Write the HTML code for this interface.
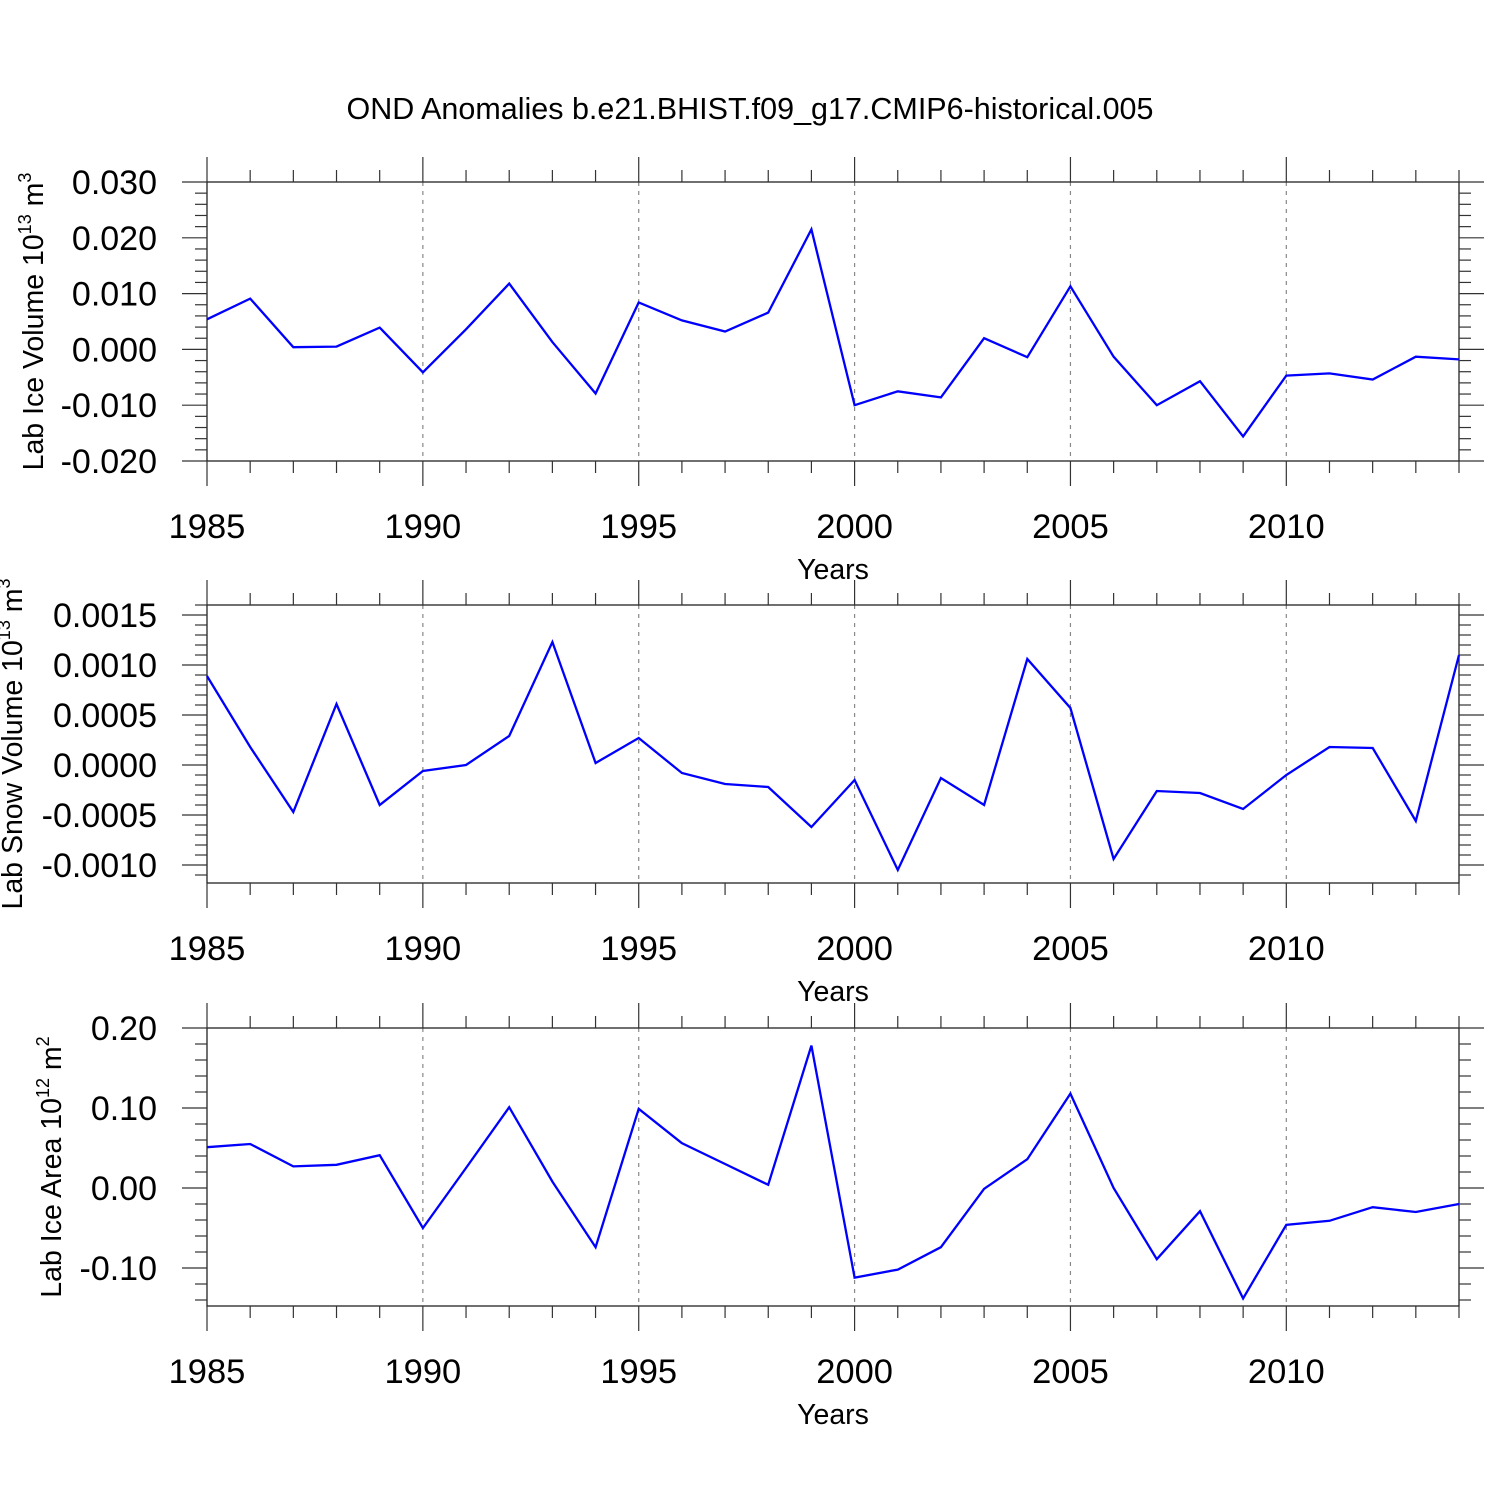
<!DOCTYPE html>
<html><head><meta charset="utf-8"><style>
html,body{margin:0;padding:0;background:#fff;}
svg{display:block;font-family:"Liberation Sans",sans-serif;}
</style></head><body>
<svg id="chart" width="1500" height="1500" viewBox="0 0 1500 1500" xmlns="http://www.w3.org/2000/svg">
<rect width="1500" height="1500" fill="#fff"/>
<text x="750" y="119" font-size="30.5" text-anchor="middle">OND Anomalies b.e21.BHIST.f09_g17.CMIP6-historical.005</text>
</svg>
<script>
const years = [1985,1986,1987,1988,1989,1990,1991,1992,1993,1994,1995,1996,1997,1998,1999,2000,2001,2002,2003,2004,2005,2006,2007,2008,2009,2010,2011,2012,2013,2014];
const iceVolume = [0.0054,0.0091,0.0004,0.0005,0.0039,-0.0041,0.0036,0.0118,0.0013,-0.0079,0.0084,0.0052,0.0032,0.0066,0.0215,-0.0100,-0.0075,-0.0086,0.0020,-0.0014,0.0113,-0.0013,-0.0100,-0.0057,-0.0156,-0.0047,-0.0043,-0.0054,-0.0013,-0.0018];
const snowVolume = [0.00089,0.00018,-0.00047,0.00061,-0.00040,-0.00006,0.0,0.00029,0.00123,0.00002,0.00027,-0.00008,-0.00019,-0.00022,-0.00062,-0.00015,-0.00105,-0.00013,-0.00040,0.00106,0.00057,-0.00094,-0.00026,-0.00028,-0.00044,-0.00010,0.00018,0.00017,-0.00056,0.00110];
const iceArea = [0.051,0.055,0.027,0.029,0.041,-0.050,0.025,0.101,0.008,-0.074,0.099,0.056,0.030,0.004,0.178,-0.112,-0.102,-0.074,-0.001,0.036,0.118,0.0,-0.089,-0.029,-0.138,-0.046,-0.041,-0.024,-0.030,-0.020];
const xTickLabels = [1985,1990,1995,2000,2005,2010];
const iceVolTicks = [0.030,0.020,0.010,0.000,-0.010,-0.020];
const snowVolTicks = [0.0015,0.0010,0.0005,0.0000,-0.0005,-0.0010];
const iceAreaTicks = [0.20,0.10,0.00,-0.10];

const NS="http://www.w3.org/2000/svg";
const svg=document.getElementById('chart');
function mk(tag,attrs,parent){const e=document.createElementNS(NS,tag);for(const k in attrs)e.setAttribute(k,attrs[k]);(parent||svg).appendChild(e);return e;}
const X0=207,X1=1459;
function xs(y){return X0+(y-1985)*(X1-X0)/29;}

function panel(opt){
  const g=mk('g',{});
  
  
  const T=opt.top,B=opt.bottom;
  const ys=v=>T+(opt.ymax-v)*(B-T)/(opt.ymax-opt.ymin);
  for(const yr of xTickLabels){ if(yr===1985)continue;
    const l=mk('line',{x1:xs(yr),x2:xs(yr),y1:T,y2:B,stroke:'#888','stroke-width':1.2,'stroke-dasharray':'4,5'},g);
    
    
  }
  const fr=mk('rect',{x:X0,y:T,width:X1-X0,height:B-T,fill:'none',stroke:'#222','stroke-width':1.3},g);
  
  
  for(let yr=1985;yr<=2014;yr++){
    const major=(yr%5===0);const L=major?25:12;const x=xs(yr);
    mk('line',{x1:x,x2:x,y1:T,y2:T-L,stroke:'#333','stroke-width':1.2},g);
    mk('line',{x1:x,x2:x,y1:B,y2:B+L,stroke:'#333','stroke-width':1.2},g);
  }
  for(const yr of xTickLabels){
    const t=mk('text',{x:xs(yr),y:B+77,'font-size':34.5,'text-anchor':'middle'},g);
    t.textContent=yr;
    
    
  }
  const xt=mk('text',{x:833,y:B+118,'font-size':28.5,'text-anchor':'middle'},g);
  xt.textContent='Years';
  
  
  const step=opt.ticks[0]-opt.ticks[1];const minor=step/5;
  const start=Math.ceil(opt.ymin/minor-1e-6);const end=Math.floor(opt.ymax/minor+1e-6);
  for(let k=start;k<=end;k++){
    const v=k*minor;const y=ys(v);
    const isMajor=Math.abs(Math.round(v/step)*step-v)<minor*0.01;
    const L=isMajor?25:12;
    mk('line',{x1:X0,x2:X0-L,y1:y,y2:y,stroke:'#333','stroke-width':1.2},g);
    mk('line',{x1:X1,x2:X1+L,y1:y,y2:y,stroke:'#333','stroke-width':1.2},g);
  }
  for(const v of opt.ticks){
    const t=mk('text',{x:157,y:ys(v)+12,'font-size':34,'text-anchor':'end'},g);
    t.textContent=v.toFixed(opt.dec);
    
    
  }
  const yt=mk('text',{transform:`translate(${opt.tx},${(T+B)/2}) rotate(-90)`,'font-size':28.5,'text-anchor':'middle'},g);
  
  
  yt.innerHTML=`${opt.label} 10<tspan dy="-12" font-size="18">${opt.exp}</tspan><tspan dy="12"> m</tspan><tspan dy="-12" font-size="18">${opt.unitExp}</tspan>`;
  const pts=opt.data.map((v,i)=>xs(years[i]).toFixed(1)+','+ys(v).toFixed(1)).join(' ');
  const pl=mk('polyline',{points:pts,fill:'none',stroke:'#0000ff','stroke-width':2.3,'stroke-linejoin':'miter'},g);
  
  
}
panel({name:'ice-volume-panel',top:182,bottom:461,ymax:0.030,ymin:-0.020,ticks:iceVolTicks,dec:3,data:iceVolume,label:'Lab Ice Volume',exp:'13',unitExp:'3',tx:43});
panel({name:'snow-volume-panel',top:605,bottom:883,ymax:0.00160,ymin:-0.00118,ticks:snowVolTicks,dec:4,data:snowVolume,label:'Lab Snow Volume',exp:'13',unitExp:'3',tx:22});
panel({name:'ice-area-panel',top:1028,bottom:1306,ymax:0.20,ymin:-0.1475,ticks:iceAreaTicks,dec:2,data:iceArea,label:'Lab Ice Area',exp:'12',unitExp:'2',tx:61});
</script>
</body></html>
